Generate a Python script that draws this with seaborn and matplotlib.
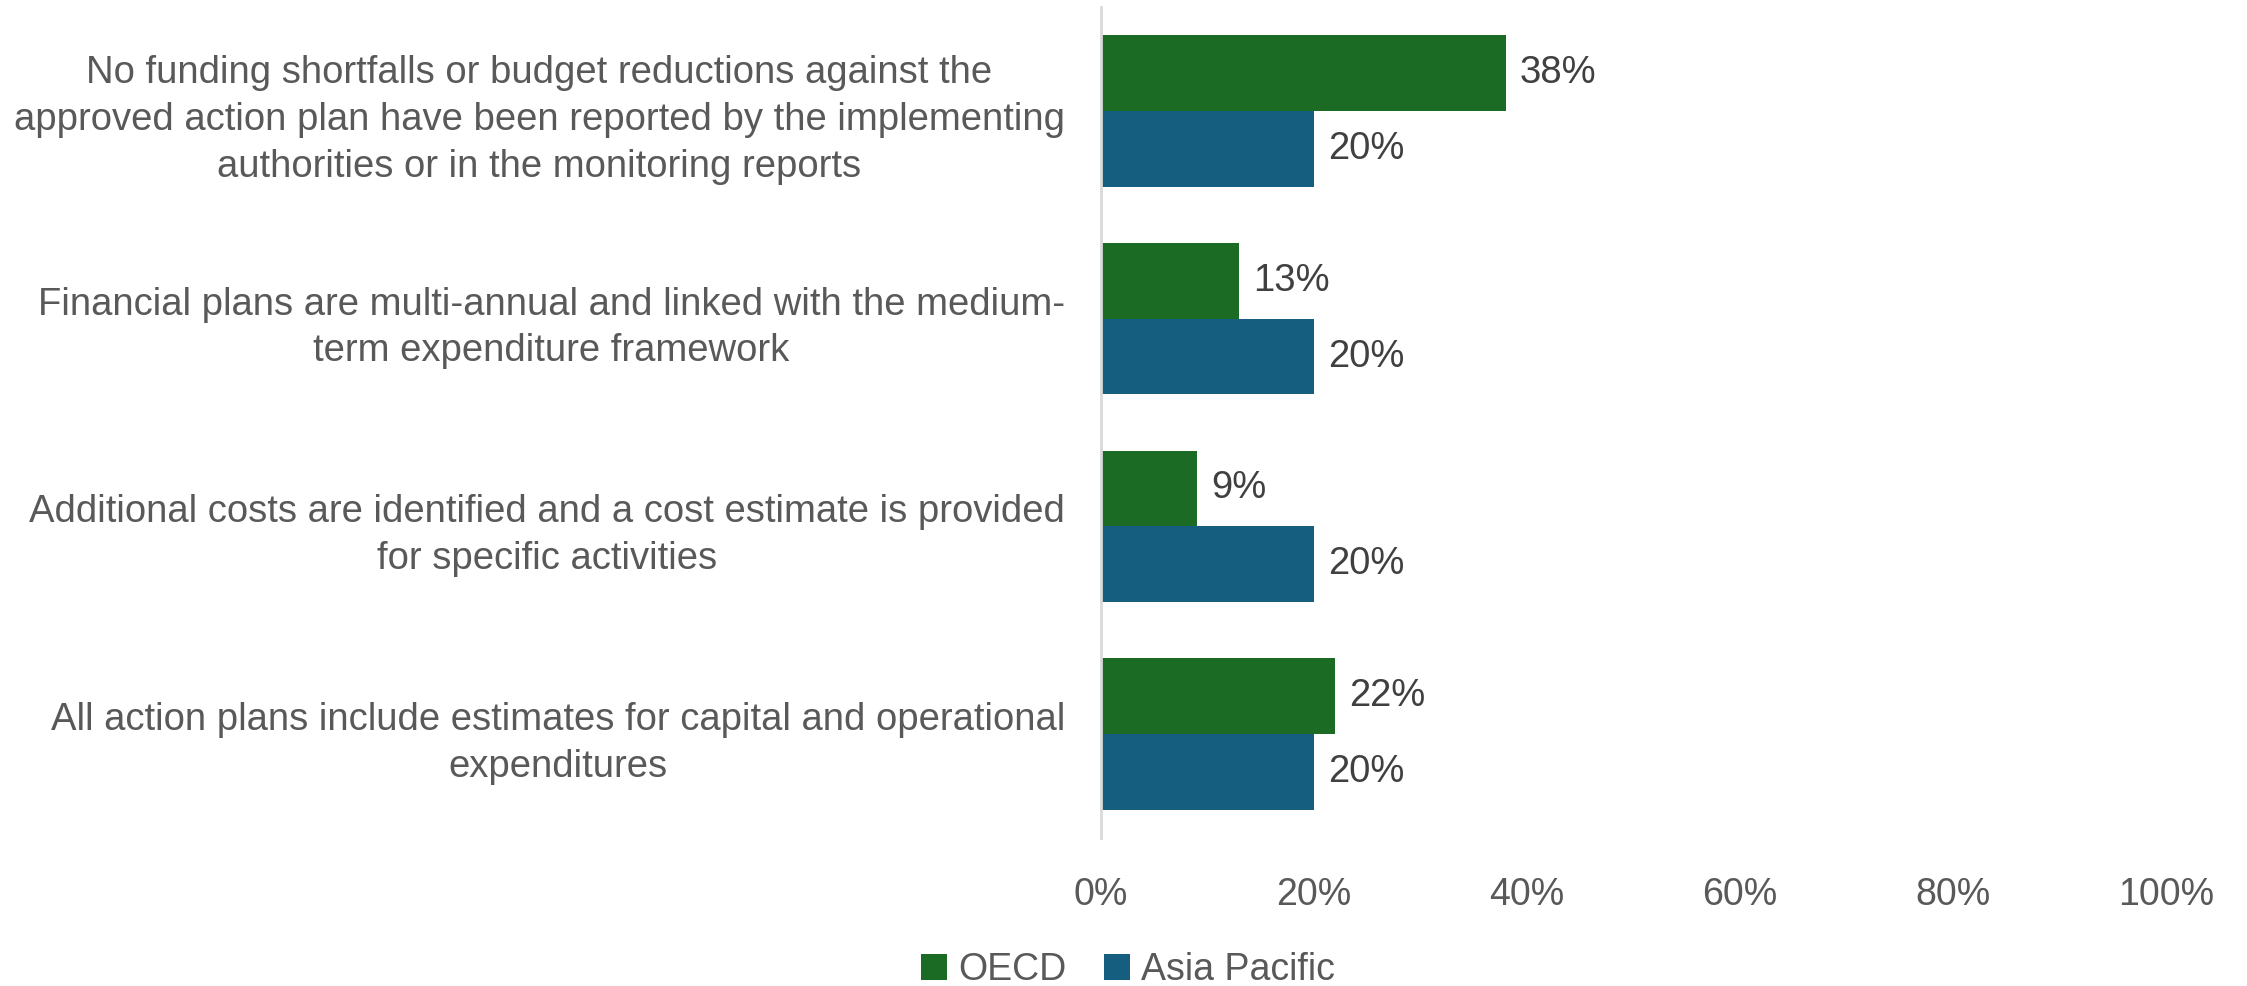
import matplotlib
matplotlib.use("Agg")
import matplotlib.pyplot as plt
from matplotlib import font_manager
from matplotlib.ticker import PercentFormatter
import seaborn as sns
import pandas as pd

categories = [
    "No funding shortfalls or budget reductions against the\napproved action plan have been reported by the implementing\nauthorities or in the monitoring reports",
    "Financial plans are multi-annual and linked with the medium-\nterm expenditure framework",
    "Additional costs are identified and a cost estimate is provided\nfor specific activities",
    "All action plans include estimates for capital and operational\nexpenditures",
]
series_names = ["OECD", "Asia Pacific"]
oecd = [38, 13, 9, 22]
asia_pacific = [20, 20, 20, 20]
x_ticks = [0, 20, 40, 60, 80, 100]

colors = {"OECD": "#1B6B25", "Asia Pacific": "#165E80"}

df = pd.DataFrame({
    "category": categories * 2,
    "series": [series_names[0]] * 4 + [series_names[1]] * 4,
    "value": oecd + asia_pacific,
})

available = {f.name for f in font_manager.fontManager.ttflist}
has_narrow = "Liberation Sans Narrow" in available
label_font = "Liberation Sans Narrow" if has_narrow else "Liberation Sans"
label_size = 31 if has_narrow else 27.5

sns.set_theme(style="white")
plt.rcParams["font.family"] = ["Liberation Sans", "DejaVu Sans"]

fig = plt.figure(figsize=(22.47, 9.86), dpi=100)
ax = fig.add_axes([0.490, 0.150, 0.474, 0.843])

sns.barplot(data=df, y="category", x="value", hue="series", orient="h",
            palette=colors, width=0.73, saturation=1, ax=ax, legend=True,
            edgecolor="none", linewidth=0)

for cont in ax.containers:
    ax.bar_label(cont, labels=[f"{v:.0f}%" for v in cont.datavalues],
                 padding=10, fontsize=27.5, color="#404040")

ax.set_xlim(0, 100)
ax.set_xticks(x_ticks)
ax.xaxis.set_major_formatter(PercentFormatter(decimals=0))
ax.set_xlabel("")
ax.set_ylabel("")
ax.tick_params(axis="x", length=0, pad=28, labelsize=27, labelcolor="#595959")
ax.tick_params(axis="y", length=0, pad=26, labelsize=label_size, labelcolor="#595959")
for lab in ax.get_yticklabels():
    lab.set_family([label_font, "DejaVu Sans"])
    lab.set_multialignment("center")
    lab.set_linespacing(1.38)

for side in ["top", "right", "bottom"]:
    ax.spines[side].set_visible(False)
ax.spines["left"].set_color("#D9D9D9")
ax.spines["left"].set_linewidth(2)
ax.grid(False)

handles, labels = ax.get_legend_handles_labels()
ax.get_legend().remove()
leg = fig.legend(handles, labels, loc="center", bbox_to_anchor=(0.502, 0.016),
                 ncol=2, frameon=False, fontsize=27, handlelength=0.7,
                 handleheight=0.7, handletextpad=0.3, columnspacing=1.0)
for t in leg.get_texts():
    t.set_color("#595959")

fig.savefig("out.png", dpi=100)
